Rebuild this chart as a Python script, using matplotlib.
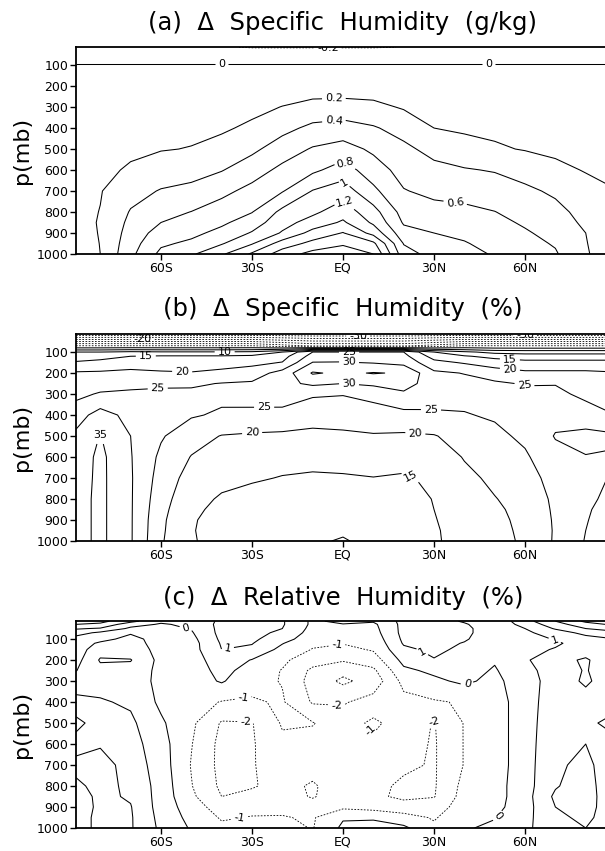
import numpy as np
import matplotlib
matplotlib.use("Agg")
import matplotlib.pyplot as plt

# grid: latitude columns and pressure levels (mb)
lats = [-88, -80, -70, -60, -50, -40, -30, -20, -10, 0, 10, 20, 30, 40, 50, 60, 70, 80, 88]
plevs = [15, 30, 50, 70, 100, 120, 150, 200, 250, 300, 400, 500, 600, 700, 800, 850, 900, 950, 1000]

# (a) change of specific humidity, g/kg -- one profile per latitude, top to bottom
dq_gkg = [
    [-0.10, -0.06, -0.03, -0.01, 0.002, 0.004, 0.010, 0.020, 0.030, 0.040, 0.060, 0.080, 0.100, 0.120, 0.140, 0.150, 0.145, 0.135, 0.12],
    [-0.10, -0.06, -0.03, -0.01, 0.002, 0.006, 0.015, 0.030, 0.045, 0.060, 0.090, 0.120, 0.155, 0.190, 0.205, 0.210, 0.207, 0.203, 0.20],
    [-0.10, -0.06, -0.03, -0.01, 0.002, 0.008, 0.020, 0.040, 0.060, 0.080, 0.120, 0.165, 0.223, 0.329, 0.414, 0.448, 0.482, 0.516, 0.55],
    [-0.10, -0.06, -0.03, -0.01, 0.002, 0.009, 0.023, 0.045, 0.068, 0.090, 0.145, 0.190, 0.292, 0.413, 0.538, 0.600, 0.684, 0.767, 0.85],
    [-0.10, -0.06, -0.03, -0.01, 0.002, 0.010, 0.025, 0.050, 0.074, 0.099, 0.160, 0.207, 0.324, 0.453, 0.604, 0.677, 0.749, 0.840, 0.97],
    [-0.16, -0.07, -0.03, -0.01, 0.002, 0.012, 0.029, 0.058, 0.087, 0.116, 0.173, 0.267, 0.390, 0.548, 0.694, 0.764, 0.859, 0.983, 1.17],
    [-0.23, -0.08, -0.035, -0.01, 0.002, 0.015, 0.037, 0.074, 0.110, 0.148, 0.236, 0.358, 0.508, 0.660, 0.793, 0.900, 1.017, 1.183, 1.43],
    [-0.23, -0.08, -0.035, -0.01, 0.002, 0.020, 0.050, 0.100, 0.150, 0.205, 0.343, 0.497, 0.650, 0.786, 1.052, 1.128, 1.220, 1.490, 1.70],
    [-0.23, -0.08, -0.035, -0.01, 0.002, 0.024, 0.060, 0.120, 0.180, 0.264, 0.445, 0.618, 0.760, 1.010, 1.159, 1.280, 1.470, 1.660, 1.87],
    [-0.23, -0.08, -0.035, -0.01, 0.002, 0.024, 0.060, 0.120, 0.185, 0.276, 0.478, 0.680, 0.890, 1.105, 1.313, 1.430, 1.610, 1.770, 1.93],
    [-0.23, -0.08, -0.035, -0.01, 0.002, 0.023, 0.058, 0.116, 0.174, 0.249, 0.419, 0.563, 0.694, 0.846, 1.076, 1.165, 1.333, 1.646, 1.80],
    [-0.19, -0.07, -0.03, -0.01, 0.002, 0.018, 0.045, 0.090, 0.136, 0.182, 0.327, 0.444, 0.526, 0.611, 0.722, 0.778, 0.871, 0.990, 1.08],
    [-0.10, -0.06, -0.03, -0.01, 0.002, 0.013, 0.033, 0.067, 0.100, 0.133, 0.200, 0.338, 0.454, 0.551, 0.667, 0.733, 0.800, 0.865, 0.93],
    [-0.10, -0.06, -0.03, -0.01, 0.002, 0.011, 0.028, 0.057, 0.085, 0.114, 0.171, 0.274, 0.415, 0.531, 0.645, 0.702, 0.758, 0.814, 0.87],
    [-0.10, -0.06, -0.03, -0.01, 0.002, 0.010, 0.026, 0.052, 0.077, 0.103, 0.164, 0.221, 0.387, 0.498, 0.604, 0.648, 0.692, 0.736, 0.78],
    [-0.10, -0.06, -0.03, -0.01, 0.002, 0.009, 0.023, 0.045, 0.068, 0.090, 0.145, 0.190, 0.318, 0.442, 0.532, 0.577, 0.620, 0.660, 0.70],
    [-0.10, -0.06, -0.03, -0.01, 0.002, 0.008, 0.020, 0.040, 0.060, 0.080, 0.120, 0.165, 0.242, 0.365, 0.460, 0.490, 0.542, 0.583, 0.62],
    [-0.10, -0.06, -0.03, -0.01, 0.002, 0.007, 0.017, 0.034, 0.050, 0.067, 0.100, 0.140, 0.190, 0.260, 0.330, 0.365, 0.400, 0.410, 0.42],
    [-0.10, -0.06, -0.03, -0.01, 0.002, 0.006, 0.015, 0.030, 0.045, 0.060, 0.090, 0.130, 0.170, 0.210, 0.240, 0.255, 0.270, 0.285, 0.30],
]

# (b) change of specific humidity, percent
dq_pct = [
    [-33, -25, -15, -5, 10.0, 12.2, 15.6, 20.6, 22.1, 23.7, 27.9, 31.0, 32.0, 32.5, 33.0, 33.0, 33.0, 33.0, 33.0],
    [-33, -25, -15, -5, 10.0, 13.0, 16.6, 20.7, 22.8, 25.5, 32.0, 35.2, 36.2, 36.2, 36.2, 36.2, 36.2, 36.2, 36.2],
    [-33, -25, -15, -5, 11.0, 15.0, 17.5, 21.3, 23.8, 25.8, 28.5, 30.0, 30.3, 30.5, 30.5, 30.5, 30.5, 30.5, 30.5],
    [-33, -25, -15, -5, 10.5, 15.5, 17.5, 20.6, 24.6, 25.5, 26.5, 25.5, 24.0, 23.0, 22.0, 21.5, 21.0, 20.8, 20.5],
    [-33, -25, -15, -5, 10.5, 15.5, 17.5, 20.3, 24.3, 26.0, 25.5, 22.0, 19.8, 18.0, 16.5, 15.8, 15.4, 15.3, 15.5],
    [-33, -25, -15, -5, 10.5, 15.5, 17.8, 21.3, 25.2, 26.2, 24.3, 19.8, 18.0, 16.2, 14.5, 14.0, 13.5, 13.2, 13.0],
    [-33, -25, -15, -5, 11.0, 16.0, 18.8, 22.3, 25.7, 26.7, 24.0, 19.3, 17.5, 15.5, 13.5, 13.0, 12.5, 12.2, 12.0],
    [-33.5, -26, -17, -8, 15.0, 18.0, 20.2, 27.0, 28.5, 27.0, 23.8, 19.0, 16.5, 14.8, 13.0, 12.5, 12.0, 11.8, 11.5],
    [-34, -27, -19, -11, 25.0, 27.0, 30.2, 35.5, 31.0, 25.5, 22.5, 18.5, 16.2, 14.5, 13.0, 12.0, 11.5, 11.0, 10.5],
    [-34, -27, -19, -11, 25.0, 27.5, 30.3, 34.0, 30.0, 25.2, 22.5, 19.0, 16.5, 14.6, 12.5, 11.5, 11.0, 10.5, 9.7],
    [-34, -27, -19, -11, 25.0, 27.0, 29.7, 35.3, 31.0, 26.5, 22.8, 19.6, 17.0, 14.9, 13.0, 12.2, 11.8, 11.4, 11.0],
    [-34, -27, -19, -11, 25.0, 26.5, 28.5, 34.5, 32.0, 29.2, 23.5, 19.3, 16.7, 14.5, 13.0, 12.5, 12.0, 11.8, 11.5],
    [-33.5, -26, -17, -8, 15.0, 18.0, 21.5, 26.0, 27.5, 27.0, 24.3, 19.7, 17.2, 15.8, 15.2, 15.0, 14.8, 14.6, 14.5],
    [-33, -25, -15, -5, 11.0, 15.5, 19.5, 24.8, 26.5, 26.5, 24.7, 22.0, 20.3, 18.8, 17.5, 17.0, 16.7, 16.5, 16.5],
    [-33, -25, -15, -5, 8.5, 13.5, 17.5, 22.5, 25.8, 26.5, 25.6, 23.8, 22.5, 21.0, 19.8, 19.3, 19.0, 18.8, 18.7],
    [-33, -25, -15, -5, 8.0, 12.5, 16.5, 21.0, 24.6, 26.5, 27.0, 26.0, 24.3, 22.8, 21.8, 21.3, 21.0, 20.8, 20.6],
    [-33, -25, -15, -5, 8.0, 12.5, 16.5, 21.0, 24.8, 26.0, 28.5, 30.3, 28.5, 27.0, 26.0, 25.8, 25.6, 25.5, 25.6],
    [-33, -25, -15, -5, 8.0, 12.5, 16.5, 21.0, 23.0, 24.0, 27.0, 31.5, 29.8, 28.5, 29.0, 29.5, 29.8, 30.0, 30.3],
    [-33, -25, -15, -5, 8.0, 12.5, 16.5, 20.5, 21.8, 23.0, 25.3, 31.0, 29.5, 30.2, 31.0, 31.5, 31.5, 31.5, 31.5],
]

# (c) change of relative humidity, percent
drh_pct = [
    [2.6, 2.0, 1.1, 0.4, -0.4, -0.5, -0.5, -0.35, -0.03, 0.45, 1.3, 2.3, 1.6, 2.3, 1.8, 1.6, 1.5, 1.5, 1.5],
    [2.3, 1.8, 0.9, -0.2, -0.3, 0.15, 0.6, 1.1, 0.7, 0.6, 1.1, 1.5, 1.9, 2.4, 2.3, 2.2, 2.2, 2.3, 2.3],
    [1.3, 0.4, -0.2, -0.1, 0.3, 0.4, 0.5, 1.05, 0.7, 0.6, 0.85, 1.2, 1.4, 1.6, 1.8, 1.9, 2.05, 2.1, 2.1],
    [0.2, -0.1, -0.3, -0.4, -0.4, -0.4, -0.3, -0.3, -0.3, -0.3, -0.2, 0.15, 0.4, 0.5, 0.6, 0.6, 0.6, 0.7, 0.8],
    [0.3, 0.2, 0.05, -0.1, -0.3, -0.4, -0.4, -0.5, -0.5, -0.5, -0.6, -0.8, -0.95, -1.05, -0.95, -0.8, -0.5, -0.3, -0.1],
    [1.2, 1.3, 1.3, 1.3, 1.2, 1.1, 1.0, 0.6, 0.3, 0.1, -1.05, -2.1, -2.3, -2.3, -2.2, -2.0, -1.5, -1.1, -0.8],
    [1.4, 1.4, 1.4, 1.3, 1.2, 1.05, 0.8, -0.05, -0.4, -0.7, -1.1, -2.05, -2.1, -2.1, -2.1, -1.7, -1.3, -0.95, -0.8],
    [1.1, 1.1, 1.0, 0.8, 0.4, 0.05, -0.3, -0.8, -1.05, -1.05, -0.9, -0.9, -1.2, -1.3, -1.6, -1.5, -1.2, -0.95, -0.7],
    [-0.2, -0.2, -0.3, -0.4, -0.6, -0.8, -1.05, -1.6, -2.2, -2.4, -2.1, -0.95, -1.3, -1.5, -2.15, -2.1, -1.5, -1.1, -1.05],
    [0.3, -0.05, -0.3, -0.5, -0.8, -0.95, -1.3, -1.9, -2.7, -3.2, -2.1, -1.5, -1.3, -1.2, -1.3, -1.3, -1.2, -0.1, 0.2],
    [0.1, -0.2, -0.3, -0.4, -0.6, -0.75, -0.9, -1.5, -2.2, -2.6, -1.6, -0.8, -1.2, -1.4, -1.7, -1.8, -1.4, -0.1, 0.3],
    [1.3, 1.3, 1.3, 1.3, 1.2, 1.1, 0.8, 0.3, -0.2, -0.7, -1.3, -1.5, -1.6, -1.8, -2.2, -2.2, -1.6, -0.6, 0.2],
    [1.4, 1.4, 1.4, 1.4, 1.35, 1.3, 1.2, 0.95, 0.2, -0.2, -1.1, -2.05, -2.1, -2.1, -2.1, -2.05, -1.5, -1.1, -0.8],
    [0.9, 1.1, 1.2, 1.2, 1.1, 0.95, 0.8, 0.6, 0.4, 0.2, -0.9, -0.95, -0.95, -0.95, -0.7, -0.6, -0.5, -0.3, -0.1],
    [0.3, 0.4, 0.5, 0.5, 0.45, 0.4, 0.3, 0.1, -0.1, -0.3, -0.5, -0.5, -0.5, -0.5, -0.4, -0.4, -0.3, -0.05, 0.2],
    [1.6, 1.3, 1.0, 0.8, 0.7, 0.7, 0.8, 0.9, 0.8, 0.7, 0.6, 0.6, 0.6, 0.6, 0.6, 0.6, 0.6, 0.7, 0.8],
    [3.0, 2.6, 2.1, 1.5, 1.05, 0.9, 1.05, 1.5, 1.3, 1.3, 1.5, 1.6, 1.7, 1.8, 1.9, 2.2, 2.0, 1.8, 1.6],
    [4.2, 3.6, 3.0, 2.3, 1.6, 1.3, 1.3, 2.2, 2.1, 2.2, 1.5, 1.8, 2.0, 2.3, 2.6, 2.6, 2.4, 2.2, 2.0],
    [4.8, 4.1, 3.3, 2.7, 1.9, 1.5, 1.3, 1.05, 1.2, 1.4, 1.6, 2.2, 1.7, 1.4, 1.2, 1.3, 1.5, 1.6, 1.6],
]

xticks = [-60, -30, 0, 30, 60]
xticklabels = ["60S", "30S", "EQ", "30N", "60N"]
yticks = [100, 200, 300, 400, 500, 600, 700, 800, 900, 1000]

titles = ["(a)  \u0394  Specific  Humidity  (g/kg)",
          "(b)  \u0394  Specific  Humidity  (%)",
          "(c)  \u0394  Relative  Humidity  (%)"]

plt.rcParams["contour.negative_linestyle"] = (0, (2.0, 1.8))

fig = plt.figure(figsize=(6.05, 8.51), dpi=100)

W, H = 605.0, 851.0
# axes top edge in pixels, and title centre
tops = [47, 334, 621]
title_y = [23, 309, 598]

panels = [
    (dq_gkg, np.round(np.arange(-0.2, 1.81, 0.2), 1),
     [(-5, 18), (-40, 100), (48, 100), (-3, 262), (-3, 362), (1, 558), (1, 650), (1, 745), (37, 754)]),
    (dq_pct, np.arange(-30, 36, 5),
     [(-66, 40), (5, 22), (60, 25), (-39, 103), (-65, 114), (-53, 189), (-61, 289), (-26, 360),
      (-30, 468), (2, 99), (2, 146), (2, 249), (29, 368), (24, 456), (24, 635), (60, 245),
      (55, 183), (55, 135), (-80, 490)]),
    (drh_pct, np.arange(-3, 6, 1),
     [(-52, 60), (-38, 150), (-2, 129), (-2, 422), (-33, 375), (-32, 462), (7, 560), (30, 494),
      (25, 190), (42, 367), (70, 97), (52, 954), (-34, 954)]),
]

for i, (field, levels, spots) in enumerate(panels):
    z = np.array(field).T
    ax = fig.add_axes([76 / W, 1 - (tops[i] + 207) / H, 534 / W, 207 / H])
    widths = [0.6 if v < 0 else 0.75 for v in levels]
    cs = ax.contour(lats, plevs, z, levels=levels, colors="k", linewidths=widths)
    ax.clabel(cs, fmt="%g", fontsize=8, inline=True, inline_spacing=3, manual=spots)
    ax.set_xlim(-88, 88)
    ax.set_ylim(1000, 14)
    ax.set_xticks(xticks)
    ax.set_xticklabels(xticklabels)
    ax.set_yticks(yticks)
    ax.set_yticklabels([str(v) for v in yticks])
    ax.tick_params(direction="out", length=4, width=1, labelsize=9, pad=1.5)
    for s in ax.spines.values():
        s.set_linewidth(1.3)
    ax.spines["right"].set_visible(False)
    ax.set_ylabel("p(mb)", fontsize=16, labelpad=3)
    fig.text(343 / W, 1 - title_y[i] / H, titles[i], ha="center", va="center", fontsize=17.5)

fig.savefig("out.png", dpi=100)
